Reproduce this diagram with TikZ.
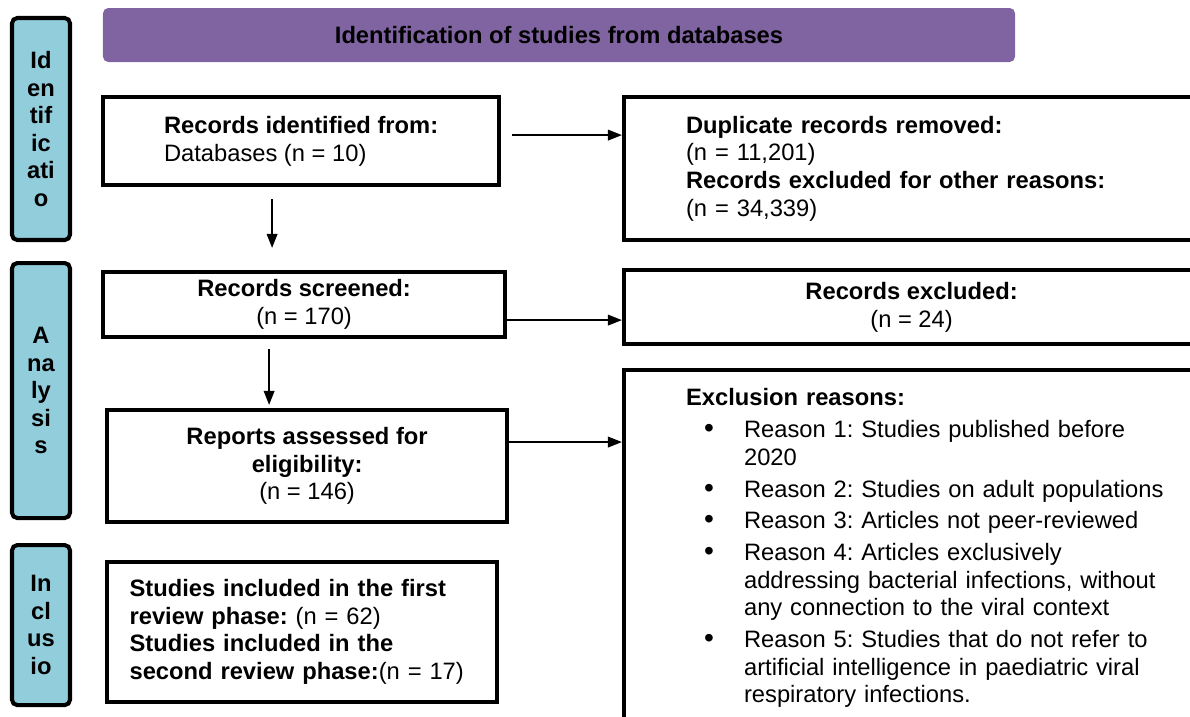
\documentclass[tikz,border=0pt]{standalone}
\usepackage{fontspec}
\setmainfont{Liberation Sans}
\usetikzlibrary{positioning, arrows.meta}

\definecolor{sideblue}{HTML}{92CDDC}
\definecolor{bannerpurple}{HTML}{8064A2}
\newcommand{\rbullet}{\hspace*{0.36cm}{\fontsize{16}{15.7}\selectfont\textbullet}}
\frenchspacing

\begin{document}
\begin{tikzpicture}[
          every node/.style={font=\fontsize{13.5}{15.7}\selectfont},
          sidebox/.style={rectangle, draw, rounded corners=3pt, line width=2.3pt, fill=sideblue, minimum width=1.16cm, align=center, font=\fontsize{13.5}{15.7}\selectfont\bfseries},
          banner/.style={rectangle, rounded corners=3pt, fill=bannerpurple, minimum width=18.24cm, minimum height=1.08cm, font=\fontsize{13.5}{15.7}\selectfont\bfseries},
          flowbox/.style={rectangle, draw, line width=2.4pt, fill=white, inner ysep=2pt},
          arrow/.style={-{Triangle[length=8pt, width=6pt]}, line width=1.1pt}
        ]
          \useasboundingbox (0,0) rectangle (23.8,-14.34);
          \clip (0,0) rectangle (23.8,-14.34);

          % phase labels on the left
          \node[sidebox, minimum height=4.44cm] (idside) at (0.82,-2.58) {Id\\en\\tif\\ic\\ati\\o};
          \node[sidebox, minimum height=5.1cm, below=0.38cm of idside] (anside) {A\\na\\ly\\si\\s};
          \node[sidebox, minimum height=3.2cm, below=0.46cm of anside] (inside) {In\\cl\\us\\io};

          \node[banner] (title) at (11.18,-0.70) {Identification of studies from databases};

          % main column
          \node[flowbox, minimum width=7.92cm, minimum height=1.76cm, align=left, anchor=north west] (ident) at (2.02,-1.90) {\textbf{Records identified from:}\\Databases (n = 10)};
          \node[flowbox, minimum width=8.04cm, minimum height=1.3cm, align=center, below=1.655cm of ident.south west, anchor=north west] (screen) {\textbf{Records screened:}\\(n = 170)};
          \node[flowbox, minimum width=8.0cm, minimum height=2.24cm, align=center, below right=1.375cm and 0.08cm of screen.south west] (assess) {\textbf{Reports assessed for}\\\textbf{eligibility:}\\(n = 146)};
          \node[flowbox, text width=6.9cm, inner xsep=0.45cm, minimum height=2.8cm, align=left, below=0.715cm of assess.south west, anchor=north west] (incl) {\textbf{Studies included in the first}\\\textbf{review phase:} (n = 62)\\\textbf{Studies included in the}\\\textbf{second review phase:}(n = 17)};

          % right column
          \node[flowbox, text width=10cm, inner xsep=1.24cm, minimum height=2.86cm, align=left, right=2.415cm of ident.north east, anchor=north west] (dup) {\textbf{Duplicate records removed:}\\(n = 11,201)\\\textbf{Records excluded for other reasons:}\\(n = 34,339)};
          \node[flowbox, minimum width=11.5cm, minimum height=1.48cm, align=center, below=0.515cm of dup.south west, anchor=north west] (excl) {\textbf{Records excluded:}\\(n = 24)};
          \node[flowbox, text width=10cm, inner xsep=1.24cm, inner ysep=0.33cm, align=left, below=0.435cm of excl.south west, anchor=north west] (reasons) {%
            \begin{tabular}{@{}p{1.16cm}@{}l@{}}
              \multicolumn{2}{@{}l@{}}{\textbf{Exclusion reasons:}}\\[2.4pt]
              \rbullet & Reason 1: Studies published before\\
                       & 2020\\[2.4pt]
              \rbullet & Reason 2: Studies on adult populations\\[2.4pt]
              \rbullet & Reason 3: Articles not peer-reviewed\\[2.4pt]
              \rbullet & Reason 4: Articles exclusively\\
                       & addressing bacterial infections, without\\
                       & any connection to the viral context\\[2.4pt]
              \rbullet & Reason 5: Studies that do not refer to\\
                       & artificial intelligence in paediatric viral\\
                       & respiratory infections.
            \end{tabular}};

          \draw[arrow, shorten <=0.24cm, shorten >=0.44cm] ([xshift=-0.58cm]ident.south) -- ([xshift=-0.58cm]ident.south |- screen.north);
          \draw[arrow, shorten <=0.2cm, shorten >=0.06cm] ([xshift=-0.7cm]screen.south) -- ([xshift=-0.7cm]screen.south |- assess.north);
          \draw[arrow, shorten <=0.22cm] ([yshift=0.12cm]ident.east) -- ([yshift=0.12cm]ident.east -| dup.west);
          \draw[arrow] ([yshift=-0.31cm]screen.east) -- ([yshift=-0.31cm]screen.east -| excl.west);
          \draw[arrow] ([yshift=0.48cm]assess.east) -- ([yshift=0.48cm]assess.east -| reasons.west);
        \end{tikzpicture}
\end{document}
